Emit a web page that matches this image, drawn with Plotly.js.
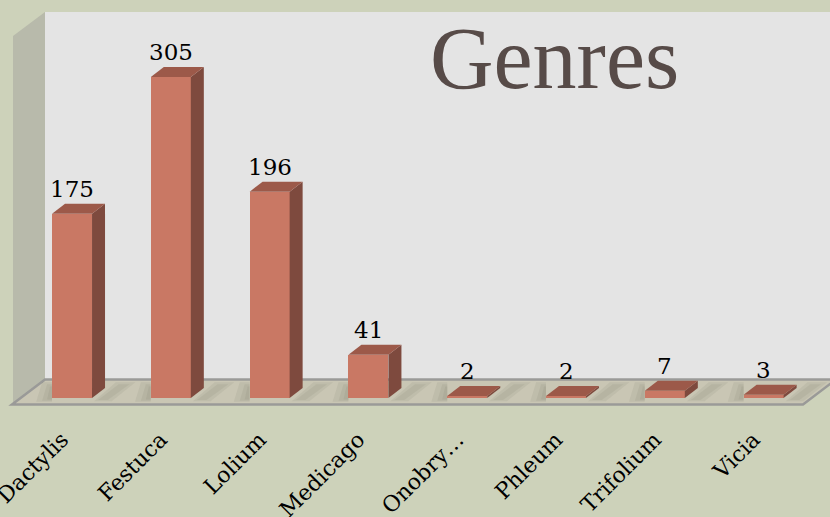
<!DOCTYPE html>
<html>
<head>
<meta charset="utf-8">
<script src="https://cdn.plot.ly/plotly-3.0.1.min.js"></script>
<style>html,body{margin:0;padding:0;background:#cdd2ba;}#chart{width:830px;height:517px;}</style>
</head>
<body>
<div id="chart"></div>
<script>
// ---- data ----
const genres = ['Dactylis', 'Festuca', 'Lolium', 'Medicago', 'Onobry…', 'Phleum', 'Trifolium', 'Vicia'];
const counts = [175, 305, 196, 41, 2, 2, 7, 3];
const chartTitle = 'Genres';

// ---- geometry / style ----
const W = 830, PLOT_H = 406;
const barWidth = 0.405;
const depthX = 0.1316;   // depth offset in x units
const depthY = 9.5;      // depth offset in y units
const xRange = [-0.729, 7.672];
const yRange = [-7.6, 378.1];
const colFront = '#c97864', colSide = '#7e4a3e', colTop = '#9c5949';

const px = v => v / W;
const py = v => 1 - v / PLOT_H;
function pathPaper(pts) {
  return 'M' + pts.map(p => px(p[0]) + ',' + py(p[1])).join(' L') + ' Z';
}
function pathData(pts) {
  return 'M' + pts.map(p => p[0] + ',' + p[1]).join(' L') + ' Z';
}

const idx = genres.map((_, i) => i);
const traces = [];

// front faces
traces.push({
  type: 'bar', x: idx, y: counts, width: barWidth,
  marker: {color: colFront, line: {width: 0}},
  hoverinfo: 'skip', showlegend: false
});

// side & top faces derived from the values
counts.forEach((v, i) => {
  const r = i + barWidth / 2, l = i - barWidth / 2;
  traces.push({
    type: 'scatter', mode: 'lines', fill: 'toself', fillcolor: colSide,
    line: {width: 0, color: colSide},
    x: [r, r + depthX, r + depthX, r, r],
    y: [0, depthY, v + depthY, v, 0],
    hoverinfo: 'skip', showlegend: false
  });
  traces.push({
    type: 'scatter', mode: 'lines', fill: 'toself', fillcolor: colTop,
    line: {width: 0, color: colTop},
    x: [l, r, r + depthX, l + depthX, l],
    y: [v, v, v + depthY, v + depthY, v],
    hoverinfo: 'skip', showlegend: false
  });
});

const annotations = counts.map((v, i) => ({
  x: i, y: v + depthY, xref: 'x', yref: 'y',
  text: String(v), showarrow: false, yanchor: 'bottom', xanchor: 'center',
  font: {family: 'DejaVu Serif', size: 23, color: '#000'}
}));
annotations.push({
  xref: 'paper', yref: 'paper', x: px(428), y: py(8), xanchor: 'left', yanchor: 'top',
  text: chartTitle, showarrow: false,
  font: {family: 'Liberation Serif', size: 88, color: '#574b48'}
});

const shapes = [
  // back wall
  {type: 'path', xref: 'paper', yref: 'paper', layer: 'below',
   path: pathPaper([[45, 12], [832, 12], [832, 380], [45, 380]]),
   fillcolor: '#e4e4e4', line: {width: 0}},
  // left wall
  {type: 'path', xref: 'paper', yref: 'paper', layer: 'below',
   path: pathPaper([[13, 36], [45, 12], [45, 380], [13, 404]]),
   fillcolor: '#b8baab', line: {width: 0}},
  // floor
  {type: 'path', xref: 'paper', yref: 'paper', layer: 'below',
   path: pathPaper([[12, 404.5], [803, 404.5], [836, 379.5], [45, 379.5]]),
   fillcolor: '#c9c6b4', line: {width: 2.5, color: '#9a9a98'}}
];

// soft floor shadows next to each bar
idx.forEach(i => {
  const l = i - barWidth / 2, r = i + barWidth / 2;
  const soft = [
    [[l - 0.16, -3.5], [l, -3.5], [l, 15], [l - 0.10, 15]],
    [[l - 0.10, -2.5], [l, -2.5], [l, 13], [l - 0.05, 13]],
    [[l - 0.05, -1.5], [l, -1.5], [l, 11], [l - 0.02, 11]],
    [[r + 0.02, -3], [r + 0.20, -3], [r + 0.44, 15], [r + 0.24, 15]],
    [[r + 0.06, -2], [r + 0.16, -2], [r + 0.38, 13], [r + 0.27, 13]]
  ];
  soft.forEach(p => shapes.push({
    type: 'path', xref: 'x', yref: 'y', layer: 'below',
    path: pathData(p), fillcolor: 'rgba(70,70,60,0.07)', line: {width: 0}
  }));
});

const layout = {
  width: 830, height: 517,
  margin: {l: 0, r: 0, t: 0, b: 111, pad: 0},
  paper_bgcolor: '#cdd2ba', plot_bgcolor: 'rgba(0,0,0,0)',
  xaxis: {
    range: xRange, tickmode: 'array', tickvals: idx, ticktext: genres,
    tickangle: -45, ticks: 'outside', ticklen: 11, tickcolor: 'rgba(0,0,0,0)',
    ticklabelshift: -10, ticklabeloverflow: 'allow',
    showgrid: false, zeroline: false, showline: false, fixedrange: true,
    tickfont: {family: 'DejaVu Serif', size: 22, color: '#000'}
  },
  yaxis: {range: yRange, visible: false, showgrid: false, zeroline: false, fixedrange: true},
  bargap: 0, showlegend: false,
  shapes: shapes, annotations: annotations
};

Plotly.newPlot('chart', traces, layout, {displayModeBar: false, staticPlot: true});
</script>
</body>
</html>
